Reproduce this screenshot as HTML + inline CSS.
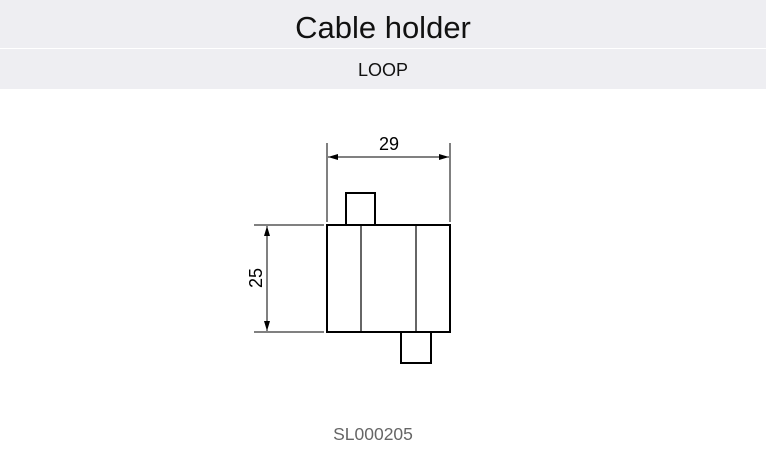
<!DOCTYPE html>
<html><head><meta charset="utf-8"><style>
html,body{margin:0;padding:0;width:766px;height:450px;background:#fff;overflow:hidden;font-family:"Liberation Sans",sans-serif}
.b1{position:absolute;left:0;top:0;width:766px;height:48px;background:#eeeef2;text-align:center;line-height:56px;font-size:31px;color:#111}
.b2{position:absolute;left:0;top:49px;width:766px;height:40px;background:#eeeef2;text-align:center;line-height:42px;font-size:18px;color:#111}
.code{position:absolute;left:0;top:424px;width:746px;text-align:center;font-size:17.5px;color:#666}
svg{position:absolute;left:0;top:0}
</style></head><body>
<div class="b1">Cable holder</div>
<div class="b2">LOOP</div>
<svg width="766" height="450" viewBox="0 0 766 450">
<defs>
<marker id="a" viewBox="0 0 10 6" refX="10" refY="3" markerWidth="10" markerHeight="6" orient="auto-start-reverse" markerUnits="userSpaceOnUse"><path d="M0,0 L10,3 L0,6 z" fill="#000"/></marker>
</defs>
<g stroke="#000" fill="none">
<rect x="327" y="225" width="123" height="107" stroke-width="2"/>
<line x1="361" y1="225" x2="361" y2="332" stroke-width="1.2"/>
<line x1="416" y1="225" x2="416" y2="332" stroke-width="1.2"/>
<path d="M346,225 V193 H375 V225" stroke-width="2"/>
<path d="M401,332 V363 H431 V332" stroke-width="2"/>
<line x1="327" y1="143" x2="327" y2="222" stroke-width="1"/>
<line x1="450" y1="143" x2="450" y2="222" stroke-width="1"/>
<line x1="328" y1="157" x2="449" y2="157" stroke-width="1" marker-start="url(#a)" marker-end="url(#a)"/>
<line x1="254" y1="225" x2="324" y2="225" stroke-width="1"/>
<line x1="254" y1="332" x2="324" y2="332" stroke-width="1"/>
<line x1="267" y1="226" x2="267" y2="331" stroke-width="1" marker-start="url(#a)" marker-end="url(#a)"/>
</g>
<text x="389" y="150" font-size="18" text-anchor="middle" font-family="Liberation Sans,sans-serif">29</text>
<text x="0" y="0" font-size="18" text-anchor="middle" font-family="Liberation Sans,sans-serif" transform="translate(262,278) rotate(-90)">25</text>
</svg>
<div class="code">SL000205</div>
</body></html>
